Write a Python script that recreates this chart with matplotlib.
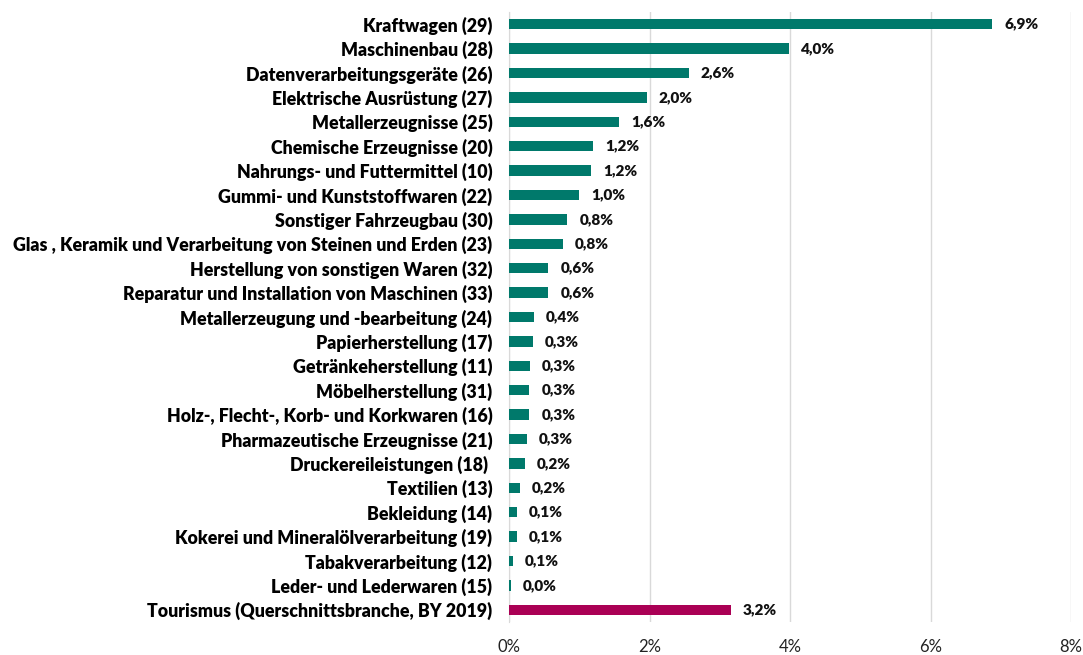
import matplotlib.pyplot as plt
from matplotlib.ticker import FuncFormatter

categories = [
    "Kraftwagen (29)",
    "Maschinenbau (28)",
    "Datenverarbeitungsgeräte (26)",
    "Elektrische Ausrüstung (27)",
    "Metallerzeugnisse (25)",
    "Chemische Erzeugnisse (20)",
    "Nahrungs- und Futtermittel (10)",
    "Gummi- und Kunststoffwaren (22)",
    "Sonstiger Fahrzeugbau (30)",
    "Glas , Keramik und Verarbeitung von Steinen und Erden (23)",
    "Herstellung von sonstigen Waren (32)",
    "Reparatur und Installation von Maschinen (33)",
    "Metallerzeugung und -bearbeitung (24)",
    "Papierherstellung (17)",
    "Getränkeherstellung (11)",
    "Möbelherstellung (31)",
    "Holz-, Flecht-, Korb- und Korkwaren (16)",
    "Pharmazeutische Erzeugnisse (21)",
    "Druckereileistungen (18) ",
    "Textilien (13)",
    "Bekleidung (14)",
    "Kokerei und Mineralölverarbeitung (19)",
    "Tabakverarbeitung (12)",
    "Leder- und Lederwaren (15)",
    "Tourismus (Querschnittsbranche, BY 2019)",
]
values = [6.88, 3.99, 2.56, 1.96, 1.57, 1.20, 1.17, 1.00, 0.83, 0.77,
          0.56, 0.56, 0.36, 0.34, 0.30, 0.29, 0.29, 0.25, 0.23, 0.16,
          0.11, 0.11, 0.05, 0.03, 3.16]
value_labels = ["6,9%", "4,0%", "2,6%", "2,0%", "1,6%", "1,2%", "1,2%", "1,0%",
                "0,8%", "0,8%", "0,6%", "0,6%", "0,4%", "0,3%", "0,3%", "0,3%",
                "0,3%", "0,3%", "0,2%", "0,2%", "0,1%", "0,1%", "0,1%", "0,0%",
                "3,2%"]

teal = "#00796b"
crimson = "#aa0055"
colors = [teal] * (len(values) - 1) + [crimson]

plt.rcParams['font.family'] = ['Lato', 'DejaVu Sans']

fig = plt.figure(figsize=(10.83, 6.55), dpi=100)
ax = fig.add_axes([509 / 1083, 33 / 655, 562 / 1083, 610 / 655])

y = list(range(len(values)))
ax.barh(y, values, height=0.42, color=colors, zorder=3)
for yi, v, lab in zip(y, values, value_labels):
    ax.text(v + 0.17, yi, lab, va="center", ha="left",
            fontsize=11, fontweight="heavy", color="#111111")

ax.set_ylim(len(values) - 0.5, -0.5)
ax.set_xlim(0, 8)
ax.set_xticks([0, 2, 4, 6, 8])
ax.xaxis.set_major_formatter(FuncFormatter(lambda x, p: f"{x:.0f}%"))
ax.set_yticks(y)
ax.set_yticklabels(categories, fontsize=12.8, fontweight="heavy")
ax.tick_params(axis="y", length=0, pad=12)
ax.tick_params(axis="x", length=0, pad=12, labelsize=12, labelcolor="#222222")

ax.grid(axis="x", color="#d9d9d9", linewidth=1, zorder=0)
for s in ["top", "right", "bottom"]:
    ax.spines[s].set_visible(False)
ax.spines["left"].set_color("#d9d9d9")

fig.savefig("out.png", dpi=100)
